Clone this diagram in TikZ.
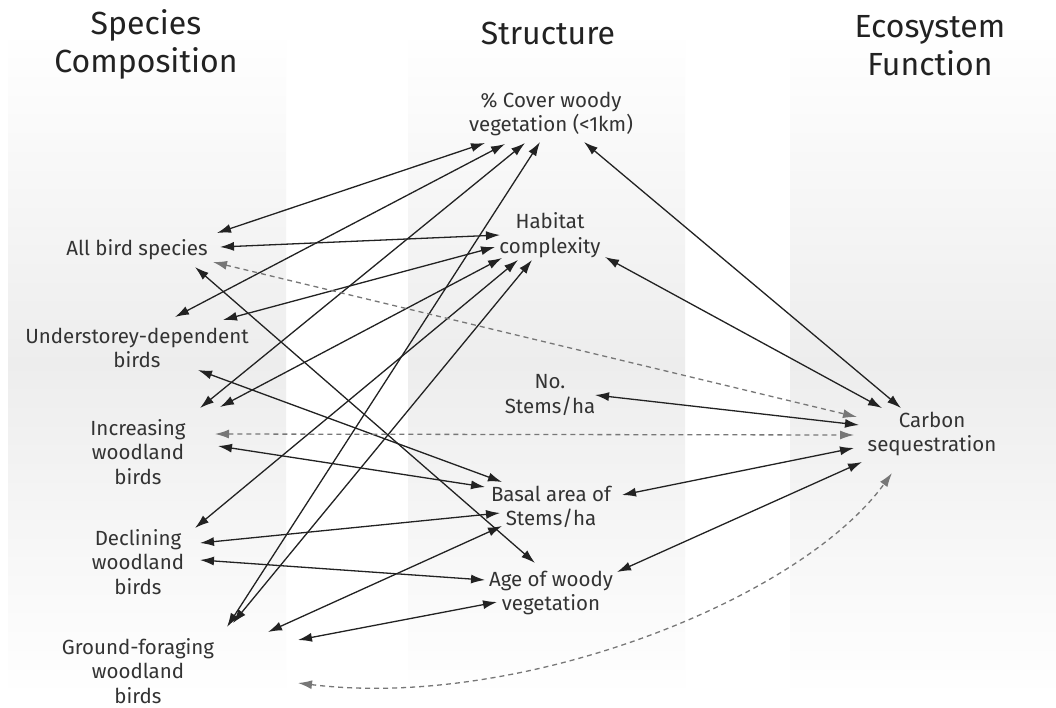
\documentclass[tikz,border=0pt]{standalone}
\usepackage{fontspec}
\setmainfont{Fira Sans}
\usetikzlibrary{arrows.meta,calc}
\definecolor{inkDark}{HTML}{222222}
\definecolor{inkText}{HTML}{333333}
\definecolor{dashGray}{HTML}{777777}
\tikzset{
  panel/.style={top color=white, bottom color=white, middle color=black!7, draw=none},
  head/.style={font=\fontsize{32}{38}\selectfont, text=inkDark, align=center},
  var/.style={font=\fontsize{20.5}{24.5}\selectfont, text=inkText, align=center, inner sep=0pt},
  link/.style={{Latex[length=14pt,width=9pt]}-{Latex[length=14pt,width=9pt]}, line width=1.3pt, inkDark},
  weak/.style={{Latex[length=14pt,width=9pt]}-{Latex[length=14pt,width=9pt]}, line width=1.3pt,
    dash pattern=on 5pt off 4pt, dashGray}
}

\begin{document}
\begin{tikzpicture}[x=1pt,y=-1pt]
  \useasboundingbox[fill=white] (0,0) rectangle (1056,707);
  \shade[panel] (8,30) rectangle (286,697);
  \shade[panel] (408,30) rectangle (685,697);
  \shade[panel] (790,30) rectangle (1056,697);

  % column headings
  \node[head] (hspc) at (146,44) {Species\\Composition};
  \node[head] (hstr) at (548,33) {Structure};
  \node[head] (heco) at (930,46) {Ecosystem\\Function};

  % species composition
  \node[var] (allb) at (137,250) {All bird species};
  \node[var] (under) at (137,348) {Understorey-dependent\\birds};
  \node[var] (incr) at (138,452) {Increasing\\woodland\\birds};
  \node[var] (decl) at (138,562) {Declining\\woodland\\birds};
  \node[var] (grnd) at (138,671) {Ground-foraging\\woodland\\birds};

  % structure
  \node[var] (cover) at (551,114) {\% Cover woody\\vegetation (<1km)};
  \node[var] (habit) at (550,235) {Habitat\\complexity};
  \node[var] (stems) at (550,395) {No.\\Stems/ha};
  \node[var] (basal) at (551,507) {Basal area of\\Stems/ha};
  \node[var] (age) at (551,593) {Age of woody\\vegetation};

  % ecosystem function
  \node[var] (carb) at (932,434) {Carbon\\sequestration};

  % species -- structure
  \draw[link] ($(allb)+(80,-17)$) -- ($(cover)+(-66,29)$);
  \draw[link] ($(allb)+(83,-3)$) -- ($(habit)+(-50,0)$);
  \draw[link] ($(allb)+(58,17)$) -- ($(age)+(-16,-30)$);
  \draw[link] ($(under)+(38,-31)$) -- ($(cover)+(-46,30)$);
  \draw[link] ($(under)+(86,-28)$) -- ($(habit)+(-55,12)$);
  \draw[link] ($(under)+(61,22)$) -- ($(basal)+(-49,-25)$);
  \draw[link] ($(incr)+(62,-44)$) -- ($(cover)+(-26,29)$);
  \draw[link] ($(incr)+(82,-45)$) -- ($(habit)+(-48,23)$);
  \draw[link] ($(incr)+(80,-6)$) -- ($(basal)+(-66,-20)$);
  \draw[link] ($(decl)+(57,-34)$) -- ($(habit)+(-32,25)$);
  \draw[link] ($(decl)+(62,-19)$) -- ($(basal)+(-51,6)$);
  \draw[link] ($(decl)+(62,-2)$) -- ($(age)+(-66,-13)$);
  \draw[link] ($(grnd)+(89,-44)$) -- ($(cover)+(-11,28)$);
  \draw[link] ($(grnd)+(95,-48)$) -- ($(habit)+(-18,25)$);
  \draw[link] ($(grnd)+(130,-39)$) -- ($(basal)+(-49,19)$);
  \draw[link] ($(grnd)+(160,-31)$) -- ($(age)+(-54,9)$);

  % structure -- function
  \draw[link] ($(cover)+(33,28)$) -- ($(carb)+(-31,-26)$);
  \draw[link] ($(habit)+(55,22)$) -- ($(carb)+(-50,-26)$);
  \draw[link] ($(stems)+(45,0)$) -- ($(carb)+(-73,-9)$);
  \draw[link] ($(basal)+(71,-12)$) -- ($(carb)+(-78,14)$);
  \draw[link] ($(age)+(66,-21)$) -- ($(carb)+(-70,28)$);

  % species -- function
  \draw[weak] ($(allb)+(76,12)$) -- ($(carb)+(-75,-17)$);
  \draw[weak] ($(incr)+(77,-18)$) -- ($(carb)+(-78,1)$);
  \draw[weak] ($(grnd)+(160,12)$) .. controls +(222,27) and +(-92,127) .. ($(carb)+(-40,39)$);
\end{tikzpicture}
\end{document}
